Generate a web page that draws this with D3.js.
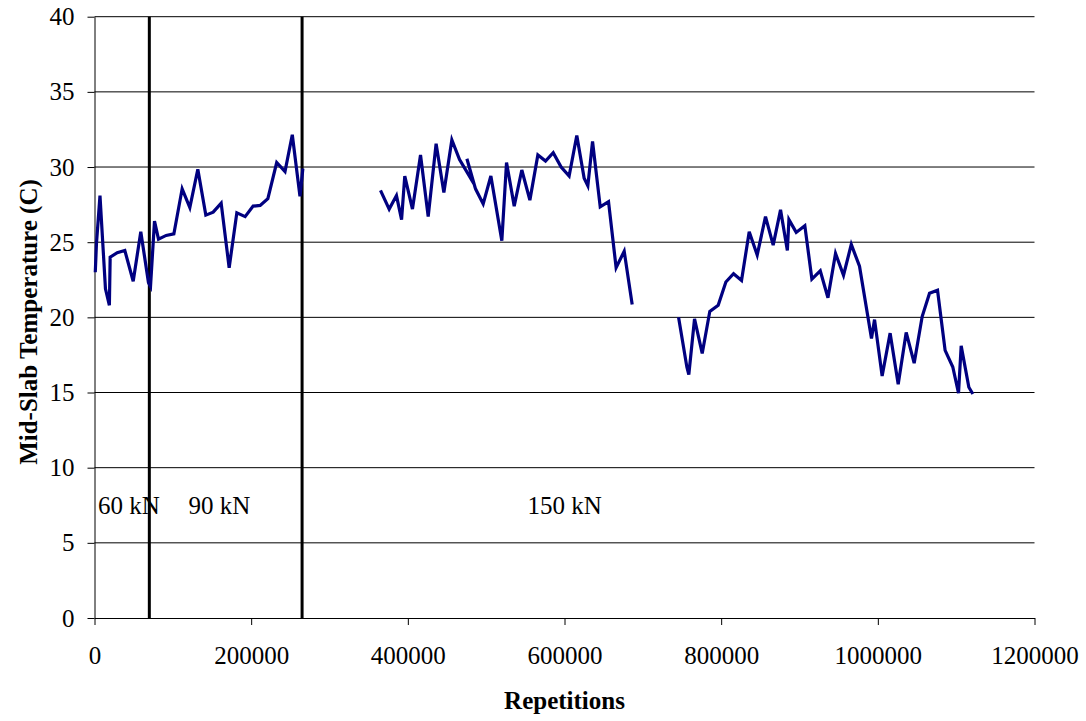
<!DOCTYPE html>
<html>
<head>
<meta charset="utf-8">
<script src="https://cdn.jsdelivr.net/npm/d3@7"></script>
<style>
  html, body { margin: 0; padding: 0; background: #fff; }
  svg { display: block; }
  svg text { font-family: "Liberation Serif", "Times New Roman", serif; }
</style>
</head>
<body>
<svg id="chart" width="1086" height="721"></svg>
<script>
// Repetition counts (x) and mid-slab temperatures in °C (y); null breaks the line.
const reps = [
  1000, 2500, 7000, 14000, 19000, 20000, 29000, 38700, 49400, 59100,
  68900, 71500, 76600, 81700, 91500, 101300, 111900, 121700, 131900, 142100,
  151500, 161700, 171900, 181700, 192300, 202500, 211500, 221300, 232600, 243200,
  252500, 262300, 266000,
  310000,
  365100, 376200, 385500, 392000, 396100, 405900, 416200, 426000, 436100, 446000,
  456200, 466000, 484300, 475400, 486400, 496200, 506000, 520000, 526000, 535800,
  545500, 555800, 566000, 575800, 585600, 595700, 605900, 615700, 625100, 629800,
  635800, 645600, 656200, 665900, 676200, 686400,
  715000,
  745600, 756200, 758700, 766000, 775800, 785500, 796200, 806000, 815800, 826000,
  835800, 846000, 856600, 866400, 875800, 884500, 886500, 895800, 906800, 915800,
  926500, 936300, 946000, 956200, 966100, 976600, 991900, 995800, 1005500, 1015700,
  1026000, 1036200, 1046400, 1056600, 1066000, 1076200, 1085900, 1095700, 1103000, 1106400,
  1116200, 1121300
];
const temps = [
  23.0, 24.9, 28.1, 21.9, 20.8, 24.0, 24.3, 24.45, 22.4, 25.7,
  22.3, 22.05, 26.4, 25.2, 25.45, 25.55, 28.55, 27.3, 29.85, 26.8,
  27.0, 27.6, 23.3, 26.95, 26.7, 27.4, 27.45, 27.9, 30.3, 29.7,
  32.15, 28.05, 29.9,
  null,
  28.45, 27.2, 28.1, 26.5, 29.4, 27.2, 30.8, 26.7, 31.55, 28.3,
  31.8, 30.5, 28.9, 30.55, 28.55, 27.55, 29.4, 25.1, 30.3, 27.4,
  29.8, 27.8, 30.8, 30.4, 30.95, 30.0, 29.4, 32.1, 29.25, 28.75,
  31.7, 27.35, 27.7, 23.3, 24.4, 20.85,
  null,
  20.0, 16.7, 16.2, 19.9, 17.6, 20.4, 20.8, 22.35, 22.9, 22.45,
  25.7, 24.15, 26.7, 24.8, 27.15, 24.45, 26.5, 25.65, 26.1, 22.55,
  23.1, 21.3, 24.25, 22.8, 24.85, 23.4, 18.6, 19.85, 16.1, 18.95,
  15.55, 19.0, 16.95, 20.05, 21.6, 21.8, 17.8, 16.7, 14.95, 18.1,
  15.35, 14.9
];

// Load-level boundaries and their labels
const loadChanges = [70000, 265000];
const loadLabels = ["60 kN", "90 kN", "150 kN"];
const loadLabelReps = [4600, 120000, 552800];
const loadLabelTemp = 6.9;

const xTicks = [0, 200000, 400000, 600000, 800000, 1000000, 1200000];
const yTicks = [0, 5, 10, 15, 20, 25, 30, 35, 40];

const serif = "'Liberation Serif', 'Times New Roman', serif";
const svg = d3.select("#chart");
const plotLeft = 94.5, plotRight = 1034.5, plotTop = 16.7, plotBottom = 618;

const x = d3.scaleLinear().domain([0, 1200000]).range([plotLeft, plotRight]);
const y = d3.scaleLinear().domain([0, 40]).range([plotBottom, plotTop]);

svg.append("rect").attr("width", 1086).attr("height", 721).attr("fill", "#fff");

// Horizontal gridlines
svg.append("g").selectAll("line").data(yTicks.filter(d => d > 0)).join("line")
  .attr("x1", plotLeft).attr("x2", plotRight)
  .attr("y1", d => y(d)).attr("y2", d => y(d))
  .attr("stroke", "#000").attr("stroke-width", 1);

// Axes
const xAxis = d3.axisBottom(x).tickValues(xTicks).tickFormat(d3.format("d"))
  .tickSizeInner(7).tickSizeOuter(0).tickPadding(21);
const gx = svg.append("g").attr("transform", `translate(0,${plotBottom})`).call(xAxis)
  .attr("font-family", serif).attr("font-size", 25);
gx.select(".domain").attr("stroke", "#000");
gx.selectAll(".tick line").attr("stroke", "#000");
gx.selectAll(".tick text").attr("fill", "#000");

const yAxis = d3.axisLeft(y).tickValues(yTicks).tickFormat(d3.format("d"))
  .tickSizeInner(7).tickSizeOuter(0).tickPadding(13);
const gy = svg.append("g").attr("transform", `translate(${plotLeft},0)`).call(yAxis)
  .attr("font-family", serif).attr("font-size", 25);
gy.select(".domain").attr("stroke", "#000");
gy.selectAll(".tick line").attr("stroke", "#000");
gy.selectAll(".tick text").attr("fill", "#000");

// Load change markers
svg.append("g").selectAll("line").data(loadChanges).join("line")
  .attr("x1", d => x(d)).attr("x2", d => x(d))
  .attr("y1", y(40)).attr("y2", y(0))
  .attr("stroke", "#000").attr("stroke-width", 3);

// Temperature series
const pts = reps.map((r, i) => ({ r, t: temps[i] }));
const line = d3.line()
  .defined(d => d.t !== null)
  .x(d => x(d.r))
  .y(d => y(d.t));
svg.append("path").datum(pts)
  .attr("d", line)
  .attr("fill", "none")
  .attr("stroke", "#000080")
  .attr("stroke-width", 3.2)
  .attr("stroke-linejoin", "miter");

// Load labels
svg.append("g").selectAll("text").data(loadLabels).join("text")
  .attr("x", (d, i) => x(loadLabelReps[i]))
  .attr("y", y(loadLabelTemp))
  .attr("font-size", 25)
  .attr("fill", "#000")
  .text(d => d);

// Axis titles
svg.append("text")
  .attr("x", (plotLeft + plotRight) / 2).attr("y", 709)
  .attr("text-anchor", "middle")
  .attr("font-size", 25).attr("font-weight", "bold")
  .text("Repetitions");

svg.append("text")
  .attr("transform", "translate(37,322) rotate(-90)")
  .attr("text-anchor", "middle")
  .attr("font-size", 25).attr("font-weight", "bold")
  .text("Mid-Slab Temperature (C)");
</script>
</body>
</html>
